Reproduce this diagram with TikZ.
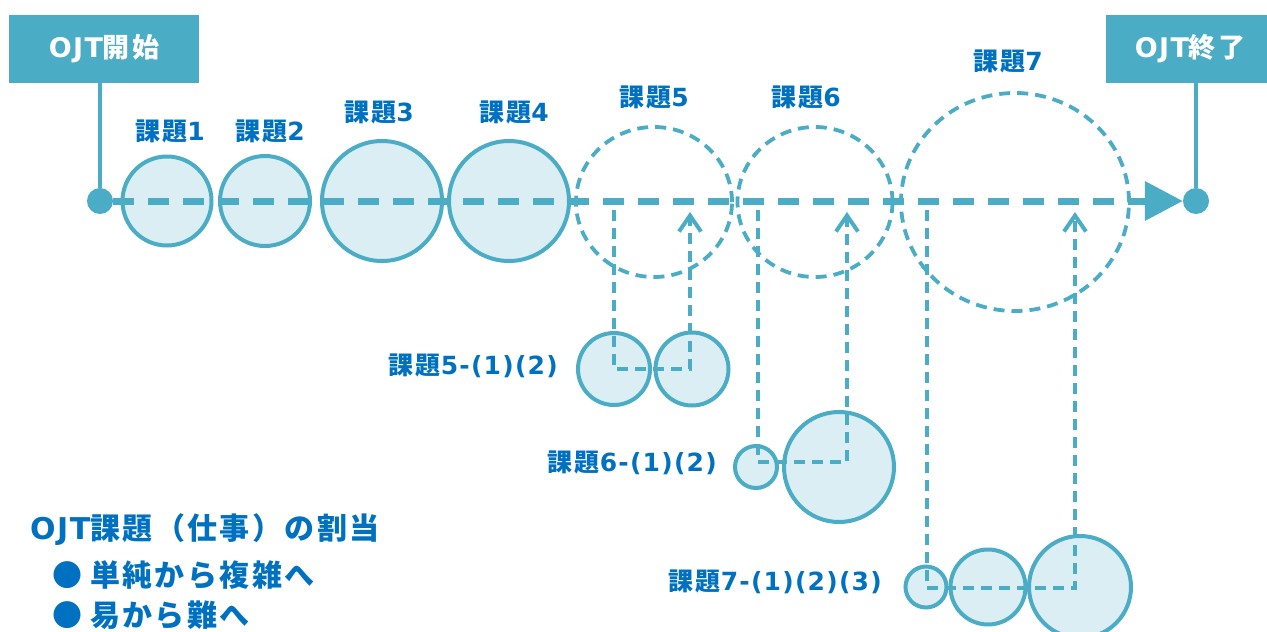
\documentclass[tikz,border=0pt]{standalone}
\usepackage{fontspec}
\setmainfont{DejaVu Sans}[LetterSpace=5]
\newfontfamily\jp{Noto Sans CJK JP}[LetterSpace=8]
\usetikzlibrary{arrows.meta,shapes.geometric}
\definecolor{ln}{HTML}{4BACC6}
\definecolor{lf}{HTML}{DAEEF3}
\definecolor{tb}{HTML}{0070C0}
\newcommand\kd[1]{{\jp 課題}#1}
\tikzset{
 task/.style={circle,draw=ln,fill=lf,line width=4pt,inner sep=0pt,minimum size=#1},
 future/.style={ellipse,draw=ln,line width=3.8pt,dash pattern=on 11pt off 7pt,inner sep=0pt},
 lbl/.style={text=tb,font=\fontsize{25}{25}\selectfont\bfseries,inner sep=0pt},
 big/.style={text=tb,font=\fontsize{30}{30}\selectfont\bfseries,inner sep=0pt,anchor=west},
 endbox/.style={fill=ln,text=white,font=\fontsize{27}{27}\selectfont\bfseries,inner sep=0pt,minimum height=68pt},
 dot/.style={circle,fill=ln,inner sep=0pt,minimum size=26pt},
 conn/.style={draw=ln,line width=4pt,dash pattern=on 11pt off 7pt,-{Straight Barb[length=16pt,width=22pt]}},
}
\begin{document}
\begin{tikzpicture}[x=1pt,y=-1pt]
\useasboundingbox (0,0) rectangle (1267,632);
% start / end
\node[endbox,minimum width=190pt] (start) at (104,49) {OJT{\jp 開始}};
\node[endbox,minimum width=168pt] (fin) at (1190,49) {OJT{\jp 終了}};
\node[dot] (sd) at (100,201) {};
\node[dot] (ed) at (1196,201) {};
\draw[ln,line width=4pt] (start.south -| sd) -- (sd);
\draw[ln,line width=4pt] (fin.south -| ed) -- (ed);
% main tasks
\node[task=89pt] (t1) at (167,201) {};
\node[task=90pt] (t2) at (265,201) {};
\node[task=120pt] (t3) at (382,201) {};
\node[task=120pt] (t4) at (509,201) {};
\node[future,minimum width=156pt,minimum height=150pt] (t5) at (654,202) {};
\node[future,minimum width=155pt,minimum height=150pt] (t6) at (815,202) {};
\node[future,minimum width=228pt,minimum height=218pt] (t7) at (1015,202) {};
% sub tasks
\node[task=72pt] (s51) at (614,369) {};
\node[task=73pt] (s52) at (692,369) {};
\node[task=42pt] (s61) at (756,467) {};
\node[task=110pt] (s62) at (839,467) {};
\node[task=41pt] (s71) at (926,587) {};
\node[task=75pt] (s72) at (988,587) {};
\node[task=102pt] (s73) at (1080,587) {};
% main line
\draw[ln,line width=7pt,dash pattern=on 21pt off 14pt,-{Triangle[length=38pt,width=38pt]}] (sd.east) -- (ed.west);
% connectors
\coordinate (a5) at (614,210); \coordinate (b5) at (614,369);
\coordinate (c5) at (690,369); \coordinate (d5) at (690,212);
\coordinate (a6) at (758,210); \coordinate (b6) at (758,462);
\coordinate (c6) at (847,462); \coordinate (d6) at (847,212);
\coordinate (a7) at (927,210); \coordinate (b7) at (927,588);
\coordinate (c7) at (1075,588); \coordinate (d7) at (1075,212);
\draw[conn] (a5) -- (b5) -- (c5) -- (d5);
\draw[conn] (a6) -- (b6) -- (c6) -- (d6);
\draw[conn] (a7) -- (b7) -- (c7) -- (d7);
% labels
\node[lbl] (l1) at (170,131) {\kd{1}};
\node[lbl] (l2) at (270,131) {\kd{2}};
\node[lbl] (l3) at (379,112) {\kd{3}};
\node[lbl] (l4) at (514,112) {\kd{4}};
\node[lbl] (l5) at (654,97) {\kd{5}};
\node[lbl] (l6) at (806,97) {\kd{6}};
\node[lbl] (l7) at (1008,61) {\kd{7}};
\node[lbl,anchor=east] (l51) at (558,366) {\kd{5-(1)(2)}};
\node[lbl,anchor=east] (l61) at (717,463) {\kd{6-(1)(2)}};
\node[lbl,anchor=east] (l71) at (882,582) {\kd{7-(1)(2)(3)}};
% legend
\node[big] (h) at (30,530) {OJT{\jp 課題（仕事）の割当}};
\node[big] (b1) at (52,575) {{\jp ●}\hspace{8pt}{\jp 単純から複雑へ}};
\node[big] (b2) at (52,615) {{\jp ●}\hspace{8pt}{\jp 易から難へ}};
\end{tikzpicture}
\end{document}
